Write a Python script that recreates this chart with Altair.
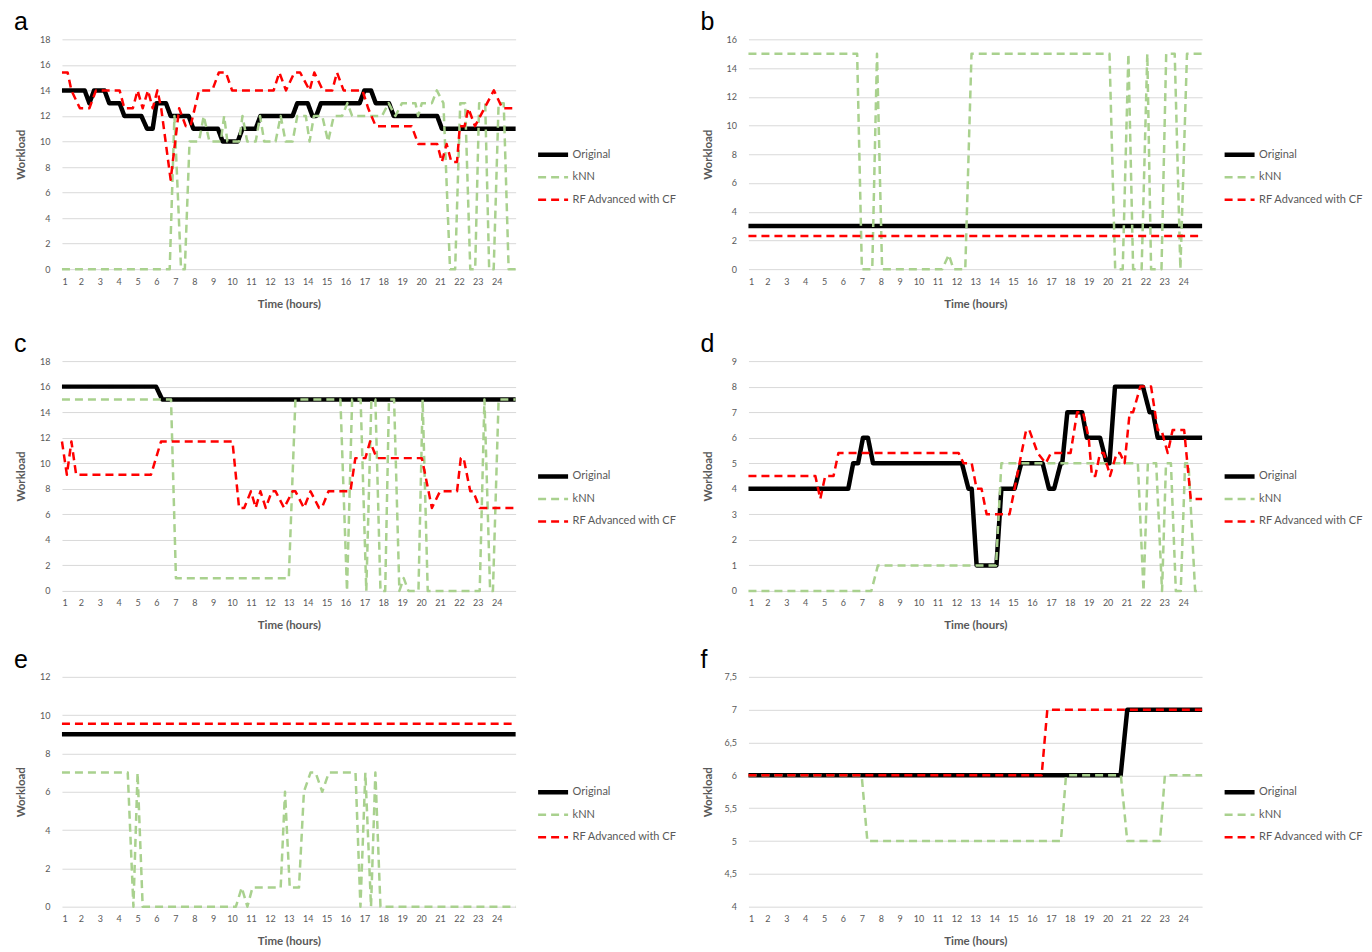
import altair as alt
import pandas as pd

SERIES = ["Original", "kNN", "RF Advanced with CF"]
COLORS = ["#000000", "#A9D18E", "#FF0000"]
DASHES = [[1, 0], [8, 5], [8, 5]]
WIDTHS = [4.5, 2.5, 2.5]
HOUR_TICKS = list(range(1, 25))

# ---------------- panel a ----------------
a_orig_h = [1, 2.2, 2.45, 2.7, 3.25, 3.5, 4.05, 4.3, 5.2, 5.5, 5.8, 6.0, 6.5, 6.75, 7.7, 7.95, 9.25, 9.5, 10.3,
            10.55, 11.25, 11.5, 13.2, 13.45, 14.0, 14.25, 14.45, 14.7, 16.75, 17.0, 17.35, 17.6, 18.3, 18.55,
            20.85, 21.1, 25]
a_orig_y = [14, 14, 13, 14, 14, 13, 13, 12, 12, 11, 11, 13, 13, 12, 12, 11, 11, 10, 10, 11, 11, 12, 12, 13, 13,
            12, 12, 13, 13, 14, 14, 13, 13, 12, 12, 11, 11]
a_knn_h = [1, 6.7, 6.95, 7.3, 7.5, 7.75, 8.25, 8.5, 8.8, 9.4, 9.58, 9.75, 10.37, 10.55, 10.8, 11.25, 11.48, 11.7,
           12.3, 12.57, 12.83, 13.2, 13.45, 13.9, 14.1, 14.33, 14.77, 15.08, 15.38, 15.82, 16.1, 16.35, 17.93,
           18.28, 18.64, 18.99, 19.7, 19.84, 20.04, 20.57, 20.83, 21.18, 21.53, 21.8, 22.07, 22.33, 22.6, 22.86,
           23.07, 23.39, 23.6, 23.84, 24.1, 24.37, 24.63, 25]
a_knn_y = [0, 0, 12, 0, 0, 10, 10, 12, 10, 10, 12, 10, 10, 12, 10, 10, 12, 10, 10, 12, 10, 10, 12, 12, 10, 12,
           12, 10, 12, 12, 13, 12, 12, 13, 12, 13, 13, 12, 13, 13, 14, 13, 0, 0, 13, 13, 0, 0, 13, 13, 0, 0, 13,
           13, 0, 0]
a_rf_h = [1, 1.3, 1.5, 1.95, 2.45, 2.8, 4.05, 4.3, 4.75, 5.0, 5.27, 5.55, 5.8, 6.05, 6.25, 6.75, 7.2, 7.55, 7.8,
          8.25, 8.95, 9.3, 9.67, 10.0, 12.2, 12.5, 12.85, 13.3, 13.6, 14.1, 14.35, 14.8, 15.3, 15.55, 15.9, 16.9,
          17.2, 17.6, 19.5, 19.85, 20.85, 21.1, 21.35, 21.6, 21.9, 22.05, 22.3, 22.5, 22.85, 23.85, 24.3, 25]
a_rf_y = [15.4, 15.4, 14, 12.6, 12.6, 14, 14, 12.6, 12.6, 14, 12.6, 14, 12.6, 14, 12.6, 7, 12.6, 11.2, 11.2, 14,
          14, 15.4, 15.4, 14, 14, 15.4, 14, 15.4, 15.4, 14, 15.4, 14, 14, 15.4, 14, 14, 12.6, 11.2, 11.2, 9.8,
          9.8, 8.4, 9.8, 8.4, 8.4, 11.2, 11.2, 12.6, 11.2, 14, 12.6, 12.6]
a_ticks = [0, 2, 4, 6, 8, 10, 12, 14, 16, 18]

# ---------------- panel b ----------------
b_orig_h = [1, 25]
b_orig_y = [3, 3]
b_knn_h = [1, 6.75, 7.0, 7.55, 7.8, 8.07, 11.25, 11.6, 11.85, 12.47, 12.8, 20.1, 20.4, 20.8, 21.1, 21.35, 21.8,
           22.1, 22.3, 22.85, 23.1, 23.55, 23.85, 24.2, 25]
b_knn_y = [15, 15, 0, 0, 15, 0, 0, 1, 0, 0, 15, 15, 0, 0, 15, 0, 0, 15, 0, 0, 15, 15, 0, 15, 15]
b_rf_h = [1, 25]
b_rf_y = [2.3, 2.3]
b_ticks = [0, 2, 4, 6, 8, 10, 12, 14, 16]

# ---------------- panel c ----------------
c_orig_h = [1, 5.98, 6.3, 25]
c_orig_y = [16, 16, 15, 15]
c_knn_h = [1, 6.77, 7.03, 13.0, 13.35, 15.73, 16.08, 16.35, 16.8, 17.1, 17.37, 17.58, 17.85, 18.1, 18.3, 18.57,
           18.85, 19.08, 19.33, 19.86, 20.08, 20.35, 23.1, 23.35, 23.65, 23.8, 24.1, 25]
c_knn_y = [15, 15, 1, 1, 15, 15, 0, 15, 15, 0, 15, 15, 0, 0, 15, 15, 0, 1, 0, 0, 15, 0, 0, 15, 0, 0, 15, 15]
c_rf_h = [1, 1.26, 1.5, 1.75, 5.71, 6.24, 10.02, 10.37, 10.64, 11.0, 11.25, 11.5, 11.78, 12.1, 12.3, 12.75, 13.2,
          13.35, 13.8, 14.15, 14.6, 14.75, 15.1, 16.26, 16.52, 17.05, 17.3, 17.65, 20.04, 20.57, 21.0, 21.9,
          22.1, 22.25, 22.6, 22.75, 23.1, 25]
c_rf_y = [11.7, 9.1, 11.7, 9.1, 9.1, 11.7, 11.7, 6.5, 6.5, 7.8, 6.5, 7.8, 6.5, 7.8, 7.8, 6.5, 7.8, 7.8, 6.5, 7.8,
          6.5, 6.5, 7.8, 7.8, 10.4, 10.4, 11.7, 10.4, 10.4, 6.5, 7.8, 7.8, 10.4, 10.4, 7.8, 7.8, 6.5, 6.5]
c_ticks = [0, 2, 4, 6, 8, 10, 12, 14, 16, 18]

# ---------------- panel d ----------------
d_orig_h = [1, 6.28, 6.54, 6.8, 7.06, 7.32, 7.59, 12.29, 12.64, 12.81, 13.07, 14.12, 14.38, 15.08, 15.43, 16.56,
            16.9, 17.17, 17.52, 17.6, 17.87, 18.65, 18.9, 19.6, 19.95, 20.1, 20.39, 21.87, 22.22, 22.4, 22.65, 25]
d_orig_y = [4, 4, 5, 5, 6, 6, 5, 5, 4, 4, 1, 1, 4, 4, 5, 5, 4, 4, 5, 5, 7, 7, 6, 6, 5, 5, 8, 8, 7, 7, 6, 6]
d_knn_h = [1, 7.5, 7.85, 14.1, 14.38, 21.6, 21.9, 22.13, 22.57, 22.88, 23.09, 23.35, 23.61, 23.87, 24.1, 24.28,
           24.63, 25]
d_knn_y = [0, 0, 1, 1, 5, 5, 0, 5, 5, 0, 5, 5, 0, 0, 5, 5, 0, 0]
d_rf_h = [1, 4.54, 4.8, 5.06, 5.5, 5.76, 12.12, 12.38, 12.81, 13.07, 13.33, 13.6, 14.81, 15.08, 15.34, 15.69,
          15.86, 16.3, 16.73, 17.0, 18.04, 18.39, 18.7, 19.0, 19.17, 19.35, 19.6, 19.8, 20.13, 20.48, 20.65, 20.9,
          21.17, 21.35, 21.73, 22.3, 22.65, 22.85, 23.18, 23.44, 24.05, 24.4, 25]
d_rf_y = [4.5, 4.5, 3.6, 4.5, 4.5, 5.4, 5.4, 5, 5, 4, 4, 3, 3, 4, 5, 6.3, 6.3, 5.4, 5, 5.4, 5.4, 7, 7, 6, 4.5,
          4.5, 5.4, 5.4, 4.5, 5.4, 5.4, 5, 7, 7, 8, 8, 6.3, 6.3, 5.4, 6.3, 6.3, 3.6, 3.6]
d_ticks = [0, 1, 2, 3, 4, 5, 6, 7, 8, 9]

# ---------------- panel e ----------------
e_orig_h = [1, 25]
e_orig_y = [9, 9]
e_knn_h = [1, 4.48, 4.78, 5.0, 5.27, 10.2, 10.51, 10.81, 11.08, 12.57, 12.8, 13.05, 13.54, 13.8, 14.15, 14.42,
           14.77, 15.12, 16.53, 16.79, 17.05, 17.35, 17.58, 17.85, 25]
e_knn_y = [7, 7, 0, 7, 0, 0, 1, 0, 1, 1, 6, 1, 1, 6, 7, 7, 6, 7, 7, 0, 7, 0, 7, 0, 0]
e_rf_h = [1, 25]
e_rf_y = [9.55, 9.55]
e_ticks = [0, 2, 4, 6, 8, 10, 12]

# ---------------- panel f ----------------
f_orig_h = [1, 20.69, 21.04, 25]
f_orig_y = [6, 6, 7, 7]
f_knn_h = [1, 6.99, 7.29, 17.53, 17.8, 20.7, 21.04, 22.77, 23.03, 25]
f_knn_y = [6, 6, 5, 5, 6, 6, 5, 5, 6, 6]
f_rf_h = [1, 16.51, 16.81, 25]
f_rf_y = [6, 6, 7, 7]
f_ticks = [4, 4.5, 5, 5.5, 6, 6.5, 7, 7.5]

W, H = 454, 230
LABEL_FONT = "Lato"
GRAY = "#595959"


def panel(letter, series_data, ticks):
    layers = []
    legend = alt.Legend(
        title=None, orient="none", direction="vertical",
        legendX=W + 20, legendY=110, padding=0,
        symbolType="stroke", symbolSize=900, labelOffset=2, clipHeight=11,
        labelFont=LABEL_FONT, labelFontSize=11, labelColor=GRAY,
        rowPadding=10.5,
    )
    for name, (hs, ys) in zip(SERIES, series_data):
        df = pd.DataFrame({"hour": hs, "workload": ys, "series": name})
        layer = alt.Chart(df).mark_line(strokeJoin="round", strokeCap="butt").encode(
            x=alt.X("hour:Q",
                    scale=alt.Scale(domain=[1, 25], nice=False, zero=False),
                    axis=alt.Axis(values=HOUR_TICKS, title="Time (hours)", grid=False, ticks=False,
                                  domain=False, labelFont=LABEL_FONT, labelFontSize=9, labelColor=GRAY,
                                  labelPadding=8, titleFont=LABEL_FONT, titleFontSize=11.5,
                                  titleFontWeight="bold", titleColor=GRAY, titleY=35,
                                  titleBaseline="middle")),
            y=alt.Y("workload:Q",
                    scale=alt.Scale(domain=[ticks[0], ticks[-1]], nice=False, zero=False),
                    axis=alt.Axis(values=ticks, title="Workload", grid=True, gridColor="#D9D9D9",
                                  gridWidth=1, ticks=False, domain=False, format="~g",
                                  labelExpr="replace(datum.label, '.', ',')",
                                  labelFont=LABEL_FONT, labelFontSize=9, labelColor=GRAY,
                                  labelPadding=12, titleFont=LABEL_FONT, titleFontSize=11.5,
                                  titleFontWeight="bold", titleColor=GRAY, titleX=-40,
                                  titleBaseline="middle")),
            color=alt.Color("series:N", scale=alt.Scale(domain=SERIES, range=COLORS), legend=legend),
            strokeDash=alt.StrokeDash("series:N", scale=alt.Scale(domain=SERIES, range=DASHES),
                                      legend=legend),
            strokeWidth=alt.StrokeWidth("series:N",
                                        scale=alt.Scale(type="ordinal", domain=SERIES, range=WIDTHS),
                                        legend=legend),
        )
        layers.append(layer)
    letter_mark = alt.Chart(pd.DataFrame({"letter": [letter]})).mark_text(
        align="left", baseline="alphabetic", fontSize=25, font="Liberation Sans", color="#000000"
    ).encode(text="letter:N", x=alt.value(-48), y=alt.value(-9))
    layers.append(letter_mark)
    return alt.layer(*layers).properties(width=W, height=H)


pa = panel("a", [(a_orig_h, a_orig_y), (a_knn_h, a_knn_y), (a_rf_h, a_rf_y)], a_ticks)
pb = panel("b", [(b_orig_h, b_orig_y), (b_knn_h, b_knn_y), (b_rf_h, b_rf_y)], b_ticks)
pc = panel("c", [(c_orig_h, c_orig_y), (c_knn_h, c_knn_y), (c_rf_h, c_rf_y)], c_ticks)
pd_ = panel("d", [(d_orig_h, d_orig_y), (d_knn_h, d_knn_y), (d_rf_h, d_rf_y)], d_ticks)
pe = panel("e", [(e_orig_h, e_orig_y), (e_knn_h, e_knn_y), (e_rf_h, e_rf_y)], e_ticks)
pf = panel("f", [(f_orig_h, f_orig_y), (f_knn_h, f_knn_y), (f_rf_h, f_rf_y)], f_ticks)

IND = dict(color="independent", strokeDash="independent", strokeWidth="independent")


def row(l, r):
    return alt.hconcat(l, r, spacing=23).resolve_scale(**IND).resolve_legend(**IND)


top = alt.vconcat(row(pa, pb), row(pc, pd_), spacing=22).resolve_scale(**IND).resolve_legend(**IND)
chart = alt.vconcat(top, row(pe, pf), spacing=16).resolve_scale(**IND).resolve_legend(**IND)
chart = chart.properties(padding={"left": 6, "top": 2, "right": 0, "bottom": 0}).configure_view(stroke=None)

chart.save("out.html", embed_options={"renderer": "svg", "actions": False})
